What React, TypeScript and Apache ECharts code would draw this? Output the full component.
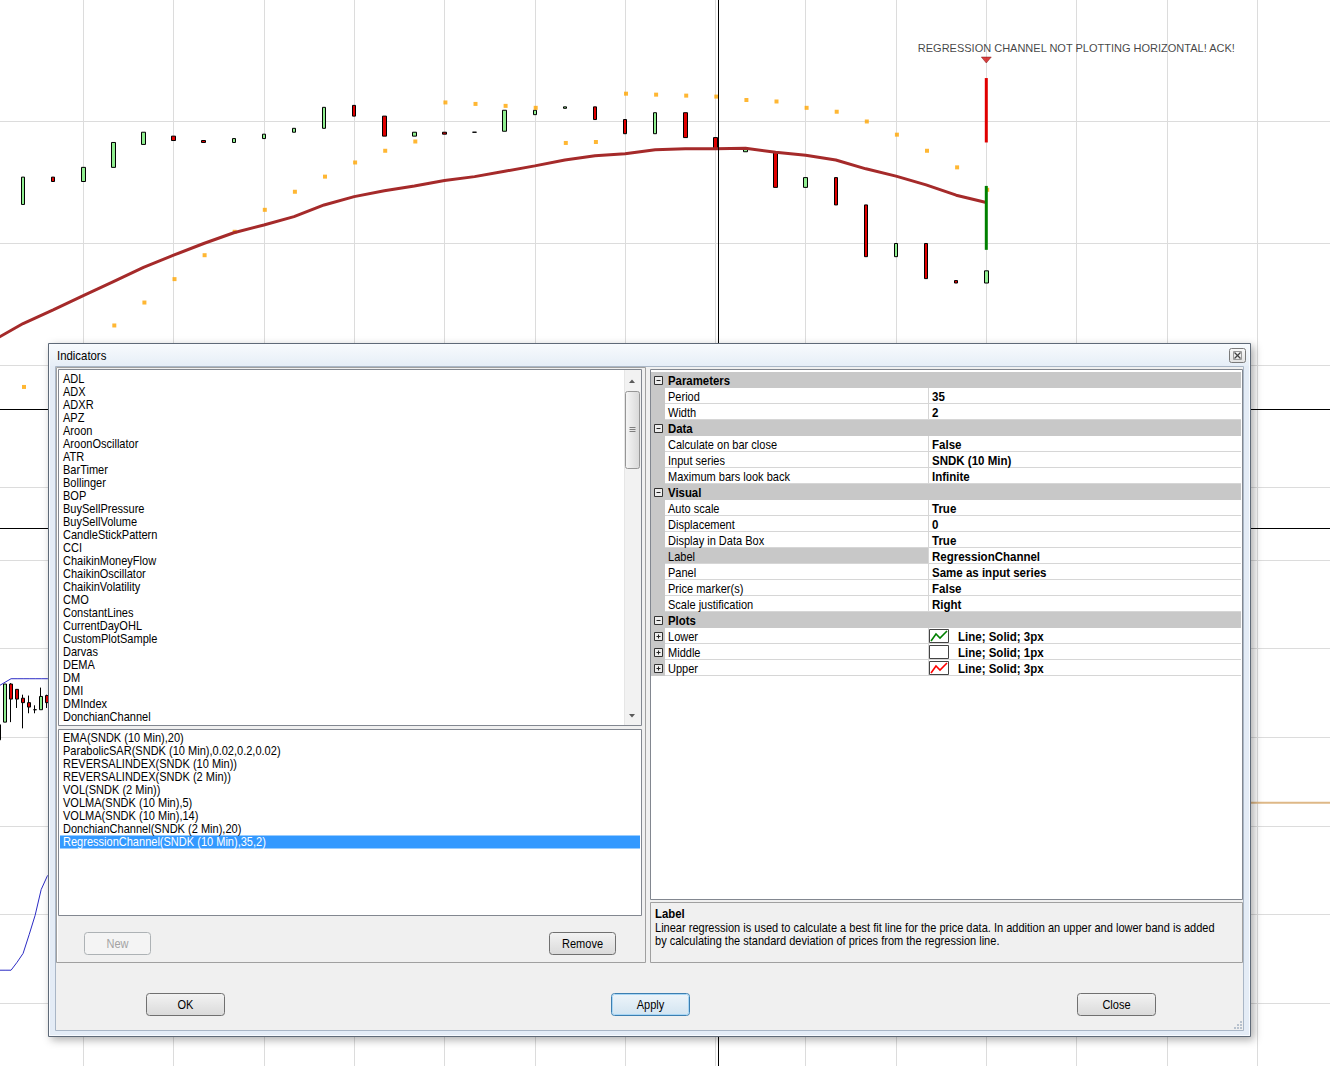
import React, { useEffect, useRef } from "react";
import * as echarts from "echarts";

const FONT = '"Liberation Sans", Arial, Helvetica, sans-serif';

// ---------------- chart data ----------------
// SNDK (10 Min) bars
const barTimes = ["09:40","09:50","10:00","10:10","10:20","10:30","10:40","10:50","11:00","11:10","11:20","11:30","11:40","11:50","12:00","12:10","12:20","12:30","12:40","12:50","13:00","13:10","13:20","13:30","13:40","13:50","14:00","14:10","14:20","14:30","14:40","14:50","15:00"];
const barOpen = [62.579,62.635,62.626,62.655,62.702,62.719,62.710,62.706,62.714,62.727,62.735,62.782,62.760,62.719,62.727,62.727,62.729,62.763,62.776,62.779,62.753,62.724,62.767,62.716,62.687,62.686,62.614,62.634,62.578,62.472,62.499,62.423,62.418];
const barClose = [62.635,62.626,62.655,62.706,62.727,62.710,62.706,62.714,62.723,62.735,62.778,62.760,62.719,62.727,62.723,62.727,62.772,62.772,62.779,62.753,62.724,62.767,62.716,62.693,62.694,62.614,62.634,62.578,62.472,62.499,62.427,62.418,62.443];

// EMA(SNDK (10 Min),20)
const emaTimes = ["09:30"].concat(barTimes);
const emaValues = [62.300,62.335,62.363,62.392,62.421,62.450,62.475,62.499,62.521,62.537,62.554,62.578,62.595,62.607,62.617,62.628,62.636,62.647,62.658,62.670,62.679,62.683,62.691,62.693,62.693,62.694,62.686,62.680,62.670,62.652,62.637,62.619,62.598,62.583];

// ParabolicSAR(SNDK (10 Min),0.02,0.2,0.02)
const psarValues = [62.205,62.244,62.285,62.331,62.378,62.426,62.475,62.523,62.568,62.605,62.636,62.665,62.689,62.708,62.788,62.785,62.781,62.777,62.705,62.707,62.806,62.804,62.802,62.800,62.793,62.790,62.777,62.769,62.749,62.722,62.689,62.655,62.609];

// RegressionChannel(SNDK (10 Min),35,2) - only plotted on the last bar
const regressionTime = "15:00";
const regressionUpper = [62.838, 62.706];
const regressionLower = [62.617, 62.486];
const alertValue = 62.875;
const alertText = "REGRESSION CHANNEL NOT PLOTTING HORIZONTAL! ACK!";

// SNDK (2 Min) bars, lower panel
const minuteTimes = ["09:32","09:34","09:36","09:38","09:40","09:42","09:44","09:46","09:48"];
const minuteOpen = [62.397,62.417,62.460,62.454,62.444,62.439,62.431,62.431,62.447];
const minuteClose = [62.414,62.460,62.443,62.443,62.439,62.434,62.431,62.446,62.439];
const minuteLow = [62.397,62.417,62.417,62.433,62.410,62.427,62.427,62.431,62.433];
const minuteHigh = [62.414,62.460,62.461,62.454,62.448,62.447,62.436,62.456,62.448];

// DonchianChannel(SNDK (2 Min),20)
const donchianTimes = ["09:32","09:34","09:36","09:38","09:40","09:42","09:44","09:46","09:48","09:50"];
const donchianUpper = [62.458,62.462,62.466,62.466,62.466,62.466,62.466,62.466,62.466,62.466];
const donchianLower = [62.137,62.137,62.137,62.146,62.156,62.177,62.199,62.228,62.243,62.250];

// horizontal level line on the lower panel (right side)
const levelTimes = ["15:00", "17:00"];
const levelValues = [62.326, 62.326];

// ---------------- dialog content ----------------
const indicatorList = ["ADL","ADX","ADXR","APZ","Aroon","AroonOscillator","ATR","BarTimer","Bollinger","BOP","BuySellPressure","BuySellVolume","CandleStickPattern","CCI","ChaikinMoneyFlow","ChaikinOscillator","ChaikinVolatility","CMO","ConstantLines","CurrentDayOHL","CustomPlotSample","Darvas","DEMA","DM","DMI","DMIndex","DonchianChannel"];
const appliedIndicators = ["EMA(SNDK (10 Min),20)","ParabolicSAR(SNDK (10 Min),0.02,0.2,0.02)","REVERSALINDEX(SNDK (10 Min))","REVERSALINDEX(SNDK (2 Min))","VOL(SNDK (2 Min))","VOLMA(SNDK (10 Min),5)","VOLMA(SNDK (10 Min),14)","DonchianChannel(SNDK (2 Min),20)","RegressionChannel(SNDK (10 Min),35,2)"];
const selectedApplied = 8;
const propertyRows: [string, string, string][] = [
  ["cat", "Parameters", ""],
  ["prop", "Period", "35"],
  ["prop", "Width", "2"],
  ["cat", "Data", ""],
  ["prop", "Calculate on bar close", "False"],
  ["prop", "Input series", "SNDK (10 Min)"],
  ["prop", "Maximum bars look back", "Infinite"],
  ["cat", "Visual", ""],
  ["prop", "Auto scale", "True"],
  ["prop", "Displacement", "0"],
  ["prop", "Display in Data Box", "True"],
  ["sel", "Label", "RegressionChannel"],
  ["prop", "Panel", "Same as input series"],
  ["prop", "Price marker(s)", "False"],
  ["prop", "Scale justification", "Right"],
  ["cat", "Plots", ""],
  ["plot", "Lower", "Line; Solid; 3px"],
  ["plot", "Middle", "Line; Solid; 1px"],
  ["plot", "Upper", "Line; Solid; 3px"],
];
const plotSwatchColors: Record<string, string | null> = { Lower: "#008000", Middle: null, Upper: "#FF0000" };
const descriptionTitle = "Label";
const descriptionLines = [
  "Linear regression is used to calculate a best fit line for the price data. In addition an upper and lower band is added",
  "by calculating the standard deviation of prices from the regression line.",
];

// ---------------- layout constants ----------------
const GRID_COLOR = "#DCDCDC";
const PX_PER_MIN = 3.01;
const X_START = "09:30";
const X_END = "17:00";
const GRID_LEFT = -7;

function toMin(t: string): number {
  const [h, m] = t.split(":").map(Number);
  return h * 60 + m;
}

function vgrad(a: string, b: string) {
  return new echarts.graphic.LinearGradient(0, 0, 0, 1, [
    { offset: 0, color: a },
    { offset: 1, color: b },
  ]);
}
function hgrad(a: string, b: string) {
  return new echarts.graphic.LinearGradient(0, 0, 1, 0, [
    { offset: 0, color: a },
    { offset: 1, color: b },
  ]);
}

function buildDialog(): any[] {
  const els: any[] = [];
  let order = 0;
  const Z = 100;
  const rect = (x: number, y: number, w: number, h: number, style: any, r = 0) =>
    els.push({ type: "rect", z: Z, z2: order++, shape: { x, y, width: w, height: h, r }, style: { lineWidth: 1, ...style } });
  const line = (x1: number, y1: number, x2: number, y2: number, stroke: string, lineWidth = 1) =>
    els.push({ type: "line", z: Z, z2: order++, shape: { x1, y1, x2, y2 }, style: { stroke, lineWidth } });
  const poly = (points: number[][], fill: string) =>
    els.push({ type: "polygon", z: Z, z2: order++, shape: { points }, style: { fill } });
  const pline = (points: number[][], stroke: string, lineWidth = 1) =>
    els.push({ type: "polyline", z: Z, z2: order++, shape: { points }, style: { stroke, lineWidth, fill: "none" } });
  const text = (s: string, x: number, y: number, o: any = {}) =>
    els.push({
      type: "text", z: Z, z2: order++, x, y, scaleX: o.sx ?? 0.92,
      style: {
        text: s, x: 0, y: 0,
        font: `${o.bold ? "bold " : ""}${o.size ?? 12}px ${FONT}`,
        fill: o.color ?? "#000",
        textAlign: o.align ?? "left",
        textVerticalAlign: "middle",
      },
    });

  // window frame
  rect(48.5, 343.5, 1202, 693, {
    fill: "#E4ECF6", stroke: "#5E6A78",
    shadowBlur: 9, shadowColor: "rgba(0,0,0,0.32)", shadowOffsetX: 3, shadowOffsetY: 3,
  });
  rect(49.5, 344.5, 1200, 691, { fill: "none", stroke: "#F8FBFF" });
  rect(50, 345, 1199, 21, { fill: vgrad("#F7FAFD", "#E6EEF7"), stroke: "none" });
  rect(55.5, 366.5, 1188, 664, { fill: "#F0F0F0", stroke: "#A9B6C6" });
  text("Indicators", 57, 355.5, { size: 12, sx: 0.95 });

  // title close button
  rect(1229.5, 348.5, 16, 14, { fill: vgrad("#FAFAFA", "#E2E2E2"), stroke: "#7A7A7A" }, 2);
  rect(1233.5, 351.5, 8, 8, { fill: "none", stroke: "#9A9A9A" });
  line(1234.5, 352.5, 1240.5, 358.5, "#444", 1.2);
  line(1240.5, 352.5, 1234.5, 358.5, "#444", 1.2);

  // left container
  rect(56.5, 367.5, 589, 595, { fill: "#F0F0F0", stroke: "#A0A0A0" });
  line(57.5, 368.5, 57.5, 961.5, "#FFFFFF");

  // available indicators list
  rect(58.5, 369.5, 583, 356, { fill: "#FFFFFF", stroke: "#828790" });
  indicatorList.forEach((name, k) => text(name, 63, 379 + 13 * k));
  // scrollbar
  rect(624, 370, 17, 355, { fill: "#F2F2F2", stroke: "none" });
  line(624.5, 370, 624.5, 725, "#E6E6E6");
  poly([[629, 383], [635, 383], [632, 379.5]], "#5A5A5A");
  poly([[629, 714], [635, 714], [632, 717.5]], "#5A5A5A");
  rect(625.5, 391.5, 14, 77, { fill: hgrad("#F6F6F6", "#D8D8D8"), stroke: "#969696" }, 2);
  line(629.5, 427.5, 635.5, 427.5, "#7E7E7E");
  line(629.5, 429.5, 635.5, 429.5, "#7E7E7E");
  line(629.5, 431.5, 635.5, 431.5, "#7E7E7E");

  // applied indicators list
  rect(58.5, 729.5, 583, 186, { fill: "#FFFFFF", stroke: "#828790" });
  rect(60, 835.5, 580, 13, { fill: "#3399FF", stroke: "none" });
  appliedIndicators.forEach((name, k) =>
    text(name, 63, 738 + 13 * k, { color: k === selectedApplied ? "#FFFFFF" : "#000000" })
  );

  // New / Remove buttons
  rect(84.5, 932.5, 66, 22, { fill: "#F4F4F4", stroke: "#ADB2B5" }, 3);
  text("New", 117.5, 943.5, { align: "center", color: "#A3A3A3" });
  rect(549.5, 932.5, 66, 22, { fill: vgrad("#F3F3F3", "#DADADA"), stroke: "#707070" }, 3);
  text("Remove", 582.5, 943.5, { align: "center" });

  // property grid
  rect(650.5, 369.5, 592, 530, { fill: "#FFFFFF", stroke: "#828790" });
  rect(651, 372, 14, propertyRows.length * 16, { fill: "#C8C8C8", stroke: "none" });
  propertyRows.forEach(([kind, name, value], k) => {
    const y0 = 372 + 16 * k;
    if (kind === "cat") {
      rect(651, y0, 590, 16, { fill: "#C8C8C8", stroke: "none" });
      rect(654.5, y0 + 4.5, 8, 8, { fill: "#EDEDED", stroke: "#333" });
      line(656.5, y0 + 8.5, 660.5, y0 + 8.5, "#222");
      text(name, 668, y0 + 8.5, { bold: true, sx: 0.95 });
      return;
    }
    if (kind === "sel") rect(665, y0, 263.5, 16, { fill: "#C8C8C8", stroke: "none" });
    line(665, y0 + 15.5, 1241, y0 + 15.5, "#D6D6D6");
    line(928.5, y0, 928.5, y0 + 16, "#D6D6D6");
    text(name, 668, y0 + 8.5);
    if (kind === "plot") {
      rect(654.5, y0 + 4.5, 8, 8, { fill: "#EDEDED", stroke: "#333" });
      line(656.5, y0 + 8.5, 660.5, y0 + 8.5, "#222");
      line(658.5, y0 + 6.5, 658.5, y0 + 10.5, "#222");
      rect(929.5, y0 + 1.5, 19, 13, { fill: "#FFFFFF", stroke: "#444" });
      const c = plotSwatchColors[name];
      if (c) pline([[931, y0 + 13], [936, y0 + 6], [940, y0 + 10], [947, y0 + 3]], c, 1.6);
      text(value, 958, y0 + 8.5, { bold: true, sx: 0.96 });
    } else {
      text(value, 932, y0 + 8.5, { bold: true, sx: 0.96 });
    }
  });

  // description box
  rect(650.5, 902.5, 592, 60, { fill: "#F0F0F0", stroke: "#A0A0A0" });
  text(descriptionTitle, 655, 913, { bold: true, sx: 0.95 });
  descriptionLines.forEach((s, k) => text(s, 655, 928 + 13 * k));

  // bottom buttons
  rect(146.5, 993.5, 78, 22, { fill: vgrad("#F3F3F3", "#DADADA"), stroke: "#707070" }, 3);
  text("OK", 185.5, 1004.5, { align: "center" });
  rect(611.5, 993.5, 78, 22, { fill: vgrad("#EEF5FA", "#D2E4F1"), stroke: "#3C7FB1" }, 3);
  rect(612.5, 994.5, 76, 20, { fill: "none", stroke: "#A8D6F5" }, 2);
  text("Apply", 650.5, 1004.5, { align: "center" });
  rect(1077.5, 993.5, 78, 22, { fill: vgrad("#F3F3F3", "#DADADA"), stroke: "#707070" }, 3);
  text("Close", 1116.5, 1004.5, { align: "center" });

  // resize grip
  [[1240, 1021], [1237, 1024], [1240, 1024], [1234, 1027], [1237, 1027], [1240, 1027]].forEach(([x, y]) =>
    rect(x, y, 2, 2, { fill: "#B8C2CE", stroke: "none" })
  );

  return els;
}

function buildOption(): any {
  const xMin = toMin(X_START);
  const xMax = toMin(X_END);
  const gridWidth = (xMax - xMin) * PX_PER_MIN;
  const hiddenX = (gridIndex: number) => ({ type: "value", gridIndex, min: xMin, max: xMax, show: false });

  const candleData = barTimes.map((t, i) => [
    toMin(t), barOpen[i], barClose[i],
    Math.min(barOpen[i], barClose[i]), Math.max(barOpen[i], barClose[i]),
  ]);
  const minuteData = minuteTimes.map((t, i) => [toMin(t), minuteOpen[i], minuteClose[i], minuteLow[i], minuteHigh[i]]);
  const candleStyle = {
    color: "#90EE90", color0: "#E00000",
    borderColor: "#000000", borderColor0: "#000000", borderColorDoji: "#000000",
    borderWidth: 1,
  };

  const overlay = [
    { type: "line", z: 10, shape: { x1: 0, y1: 409.5, x2: 1330, y2: 409.5 }, style: { stroke: "#000", lineWidth: 1 } },
    { type: "line", z: 10, shape: { x1: 0, y1: 528.5, x2: 1330, y2: 528.5 }, style: { stroke: "#000", lineWidth: 1 } },
    { type: "line", z: 10, shape: { x1: 718.5, y1: 0, x2: 718.5, y2: 1066 }, style: { stroke: "#000", lineWidth: 1 } },
  ];

  const gridBase = { left: GRID_LEFT, width: gridWidth, outerBoundsMode: "none", containLabel: false };

  return {
    animation: false,
    backgroundColor: "#FFFFFF",
    textStyle: { fontFamily: FONT },
    grid: [
      { ...gridBase, top: -1, height: 488 },
      { ...gridBase, top: 560, height: 531.6 },
      { ...gridBase, top: 0, height: 1066 },
    ],
    xAxis: [
      hiddenX(0),
      hiddenX(1),
      {
        type: "value", gridIndex: 2, min: xMin, max: xMax, interval: 30,
        axisLine: { show: false }, axisTick: { show: false }, axisLabel: { show: false },
        splitLine: { show: true, lineStyle: { color: GRID_COLOR, width: 1 } },
      },
    ],
    yAxis: [
      {
        type: "value", gridIndex: 0, min: 62, max: 63, interval: 0.25, position: "right",
        axisLine: { show: false }, axisTick: { show: false }, axisLabel: { show: false },
        splitLine: { show: true, lineStyle: { color: GRID_COLOR, width: 1 } },
      },
      {
        type: "value", gridIndex: 1, min: 62, max: 62.6, interval: 0.1, position: "right",
        axisLine: { show: false }, axisTick: { show: false }, axisLabel: { show: false },
        splitLine: { show: true, lineStyle: { color: GRID_COLOR, width: 1 } },
      },
      { type: "value", gridIndex: 2, min: 0, max: 1, show: false },
    ],
    series: [
      {
        type: "candlestick", name: "SNDK (10 Min)", xAxisIndex: 0, yAxisIndex: 0,
        data: candleData, barWidth: 4, itemStyle: candleStyle, silent: true,
      },
      {
        type: "line", name: "EMA(SNDK (10 Min),20)", xAxisIndex: 0, yAxisIndex: 0,
        data: emaTimes.map((t, i) => [toMin(t), emaValues[i]]),
        symbol: "none", lineStyle: { color: "#A52A2A", width: 3 }, silent: true,
      },
      {
        type: "scatter", name: "ParabolicSAR", xAxisIndex: 0, yAxisIndex: 0,
        data: barTimes.map((t, i) => [toMin(t) + 0.3, psarValues[i]]),
        symbol: "rect", symbolSize: 4, itemStyle: { color: "#FFA500" }, silent: true,
      },
      {
        type: "line", name: "RegressionChannel Upper", xAxisIndex: 0, yAxisIndex: 0,
        data: regressionUpper.map((v) => [toMin(regressionTime), v]),
        symbol: "none", lineStyle: { color: "#E00000", width: 3 }, silent: true,
      },
      {
        type: "line", name: "RegressionChannel Lower", xAxisIndex: 0, yAxisIndex: 0,
        data: regressionLower.map((v) => [toMin(regressionTime), v]),
        symbol: "none", lineStyle: { color: "#008000", width: 3 }, silent: true,
      },
      {
        type: "scatter", name: "Alert", xAxisIndex: 0, yAxisIndex: 0,
        data: [[toMin(regressionTime), alertValue]],
        symbol: "path://M0 0L10 0L5 6Z", symbolSize: [10, 6],
        itemStyle: { color: "#D01010", borderColor: "#700000", borderWidth: 0.5 },
        label: {
          show: true, formatter: alertText, position: "top", distance: 3, offset: [90, 0],
          color: "#111111", fontSize: 11, fontFamily: FONT,
        },
        silent: true,
      },
      {
        type: "candlestick", name: "SNDK (2 Min)", xAxisIndex: 1, yAxisIndex: 1,
        data: minuteData, barWidth: 3.5, itemStyle: candleStyle, silent: true,
      },
      {
        type: "line", name: "DonchianChannel Upper", xAxisIndex: 1, yAxisIndex: 1,
        data: donchianTimes.map((t, i) => [toMin(t), donchianUpper[i]]),
        symbol: "none", lineStyle: { color: "#2B2BC4", width: 1 }, silent: true,
      },
      {
        type: "line", name: "DonchianChannel Lower", xAxisIndex: 1, yAxisIndex: 1,
        data: donchianTimes.map((t, i) => [toMin(t), donchianLower[i]]),
        symbol: "none", lineStyle: { color: "#2B2BC4", width: 1 }, silent: true,
      },
      {
        type: "line", name: "Level", xAxisIndex: 1, yAxisIndex: 1,
        data: levelTimes.map((t, i) => [toMin(t), levelValues[i]]),
        symbol: "none", lineStyle: { color: "#DEB887", width: 2 }, silent: true,
      },
    ],
    graphic: { elements: [...overlay, ...buildDialog()] },
  };
}

export default function App() {
  const ref = useRef<HTMLDivElement>(null);
  useEffect(() => {
    if (!ref.current) return;
    const chart = echarts.init(ref.current, undefined, { renderer: "svg" });
    chart.setOption(buildOption());
    return () => chart.dispose();
  }, []);
  return (
    <div
      ref={ref}
      style={{ position: "absolute", left: 0, top: 0, width: 1330, height: 1066, background: "#FFFFFF", overflow: "hidden" }}
    />
  );
}
